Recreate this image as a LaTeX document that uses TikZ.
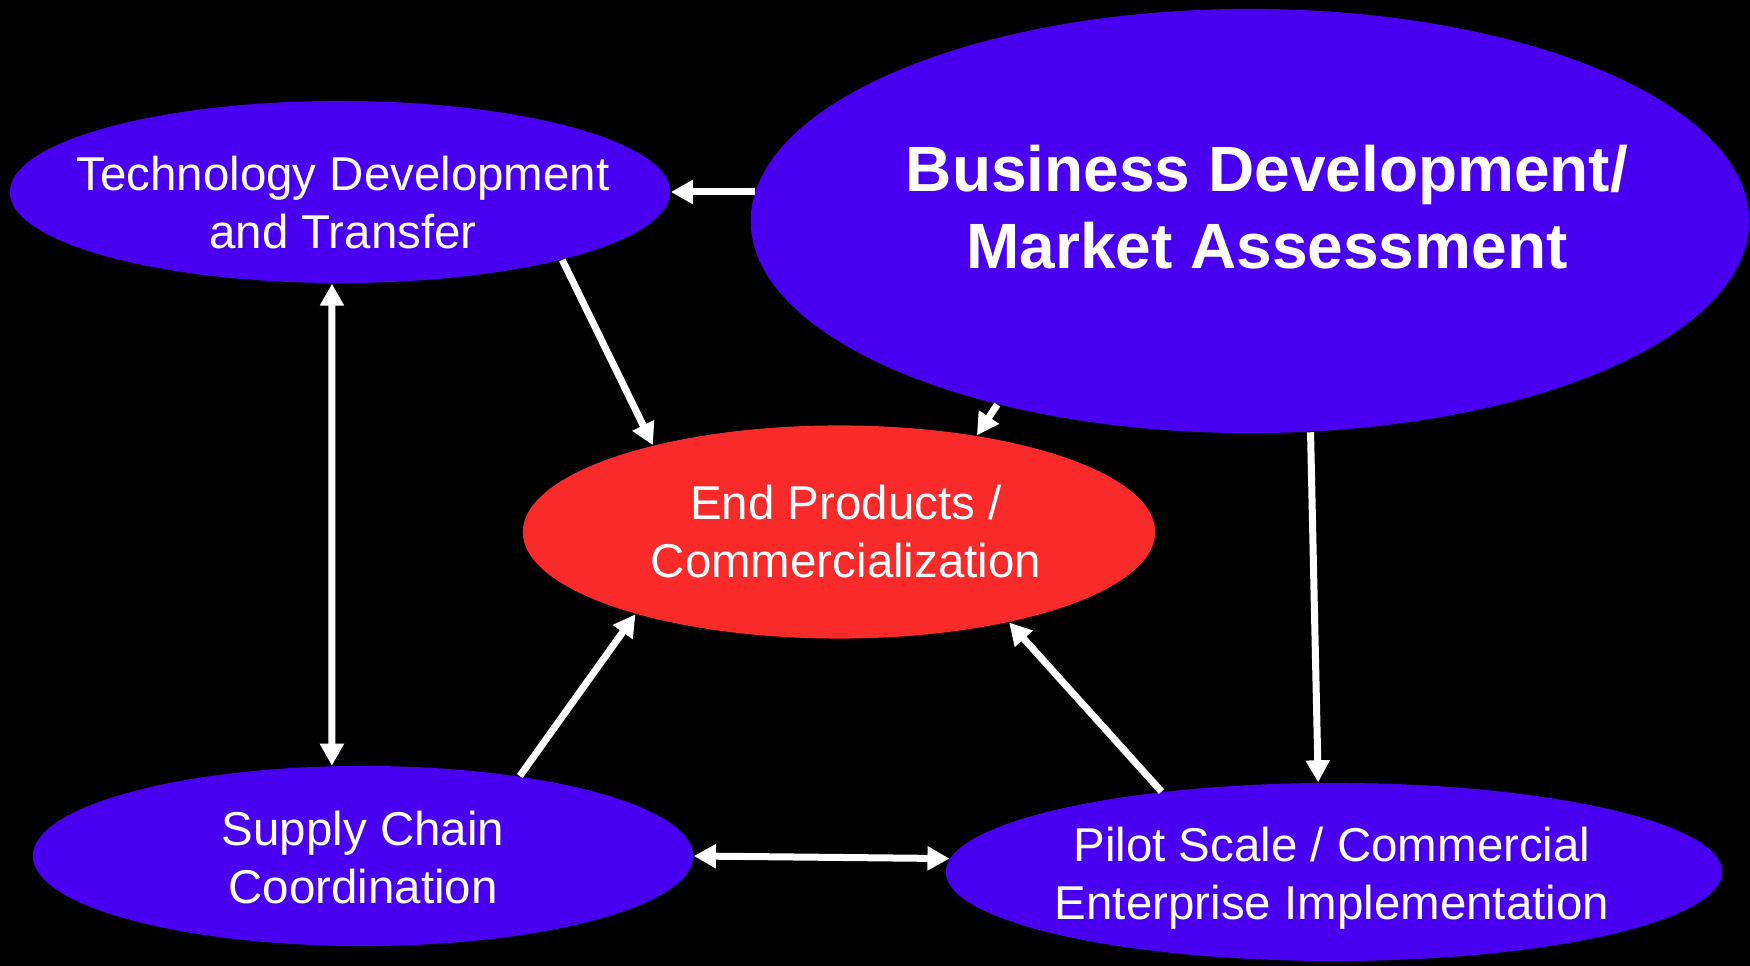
\documentclass[tikz,border=0pt]{standalone}
\usepackage{fontspec}
\setmainfont{Liberation Sans}
\usetikzlibrary{shapes.geometric, arrows.meta, positioning}

\definecolor{bubble}{RGB}{74,0,240}
\definecolor{hotred}{RGB}{249,42,42}

\begin{document}
\begin{tikzpicture}[x=0.01cm, y=0.01cm,
    blob/.style = {shape=ellipse, fill=bubble, inner sep=0pt},
    txt/.style = {text=white, align=center, inner sep=0pt,
      font=\fontsize{13.5}{16.5}\selectfont},
    bigtxt/.style = {txt, font=\fontsize{18.2}{22}\selectfont\bfseries},
    line/.style = {draw=white, line width=0.07cm,
      -{Triangle[width=0.23cm, length=0.22cm]}},
    both/.style = {line,
      {Triangle[width=0.23cm, length=0.22cm]}-{Triangle[width=0.23cm, length=0.22cm]}}]

  \fill[black] (0,0) rectangle (1750,966);
  \useasboundingbox (0,0) rectangle (1750,966);

  % the five bubbles
  \node[blob, minimum width=6.6cm, minimum height=1.82cm] (tech) at (340,774) {};
  \node[blob, minimum width=9.98cm, minimum height=4.24cm] (bus) at (1250,745) {};
  \node[blob, fill=hotred, minimum width=6.32cm, minimum height=2.13cm] (end) at (839,434) {};
  \node[blob, minimum width=6.6cm, minimum height=1.8cm] (supply) at (363,110) {};
  \node[blob, minimum width=7.76cm, minimum height=1.78cm] (pilot) at (1334,94) {};

  \node[txt] (techtxt) at ([xshift=0.03cm, yshift=-0.105cm]tech.center)
    {Technology Development\\and Transfer};
  \node[bigtxt] (bustxt) at ([xshift=0.17cm, yshift=0.14cm]bus.center)
    {Business Development/\\Market Assessment};
  \node[txt] (endtxt) at ([xshift=0.07cm]end.center)
    {End Products /\\Commercialization};
  \node[txt] (supplytxt) at ([yshift=-0.02cm]supply.center)
    {Supply Chain\\Coordination};
  \node[txt] (pilottxt) at ([xshift=-0.02cm, yshift=-0.065cm]pilot.center)
    {Pilot Scale / Commercial\\Enterprise Implementation};

  % connectors
  \draw[line] ([xshift=0.05cm]tech.east -| bus.west) -- (tech.east);
  \draw[line] (tech.-17) -- (end.155);
  \draw[line] (bus.216) -- (end.35.2);
  \draw[line] (bus.286.4) -- (pilot.100.8);
  \draw[both] (tech.-95) -- (supply.109);
  \draw[line] (supply.27) -- (end.202.3);
  \draw[line] (pilot.155) -- (end.-28.2);
  \draw[both] (supply.east) -- (pilot.178.7);
\end{tikzpicture}
\end{document}
